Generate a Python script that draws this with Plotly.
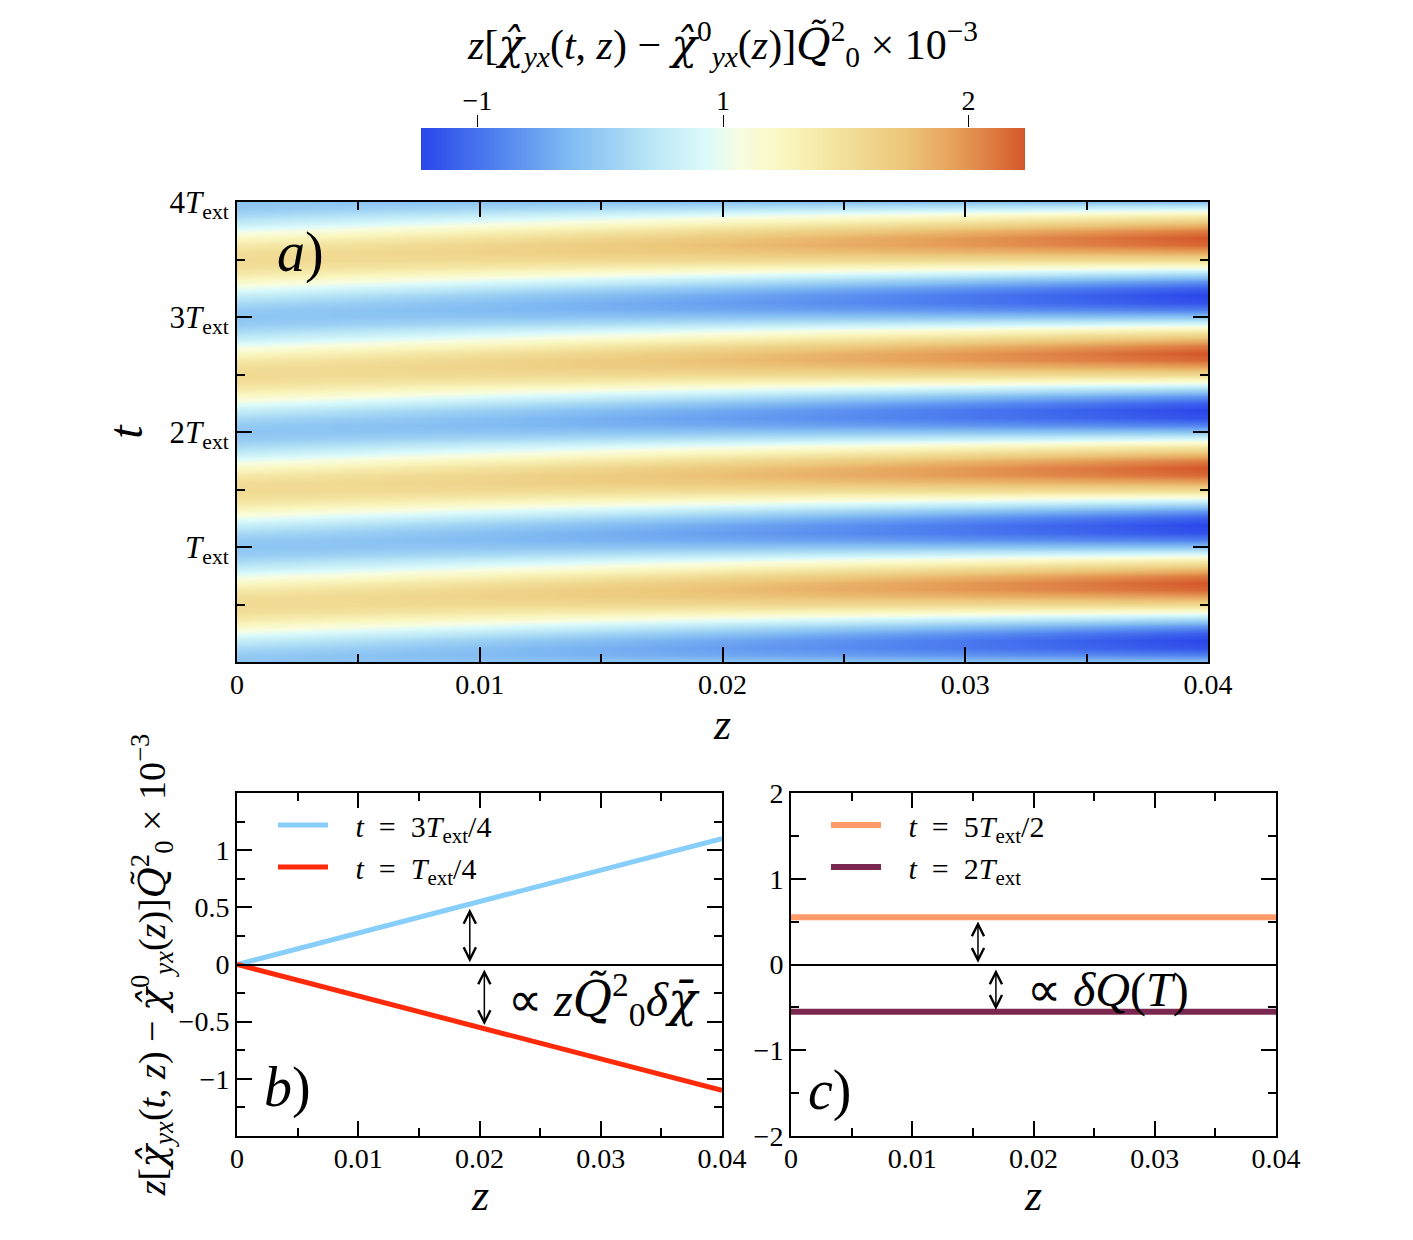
import numpy as np
import plotly.graph_objects as go

# ---------------- data ----------------
# heatmap a): field sampled at z = 0 and z = 0.04 (linear in z), one period in t (T_ext/16 steps)
z_cols = [0.0, 0.04]
chi_z0_period = [-0.55, -0.51, -0.39, -0.21, 0.00, 0.21, 0.39, 0.51,
                 0.55, 0.51, 0.39, 0.21, 0.00, -0.21, -0.39, -0.51]
chi_z004_period = [-0.55, -0.93, -1.17, -1.23, -1.10, -0.81, -0.39, 0.09,
                   0.55, 0.93, 1.17, 1.23, 1.10, 0.81, 0.39, -0.09]
n_periods = 4
t_grid = [i / 16 for i in range(16 * n_periods + 1)]          # in units of T_ext
chi_z0 = chi_z0_period * n_periods + [chi_z0_period[0]]
chi_z004 = chi_z004_period * n_periods + [chi_z004_period[0]]
heat_rows = [[a, b] for a, b in zip(chi_z0, chi_z004)]
zmin, zmax = -1.23, 1.23

# colorbar tick labels (as printed)
cb_tickvals = [-1, 0, 1]
cb_ticktext = ["\u22121", "1", "2"]

# panel b)
b_z = [0.0, 0.04]
b_3T4 = [0.0, 1.10]
b_T4 = [0.0, -1.10]

# panel c)
c_z = [0.0, 0.04]
c_5T2 = [0.55, 0.55]
c_2T = [-0.55, -0.55]

# t tick labels
t_tickvals = [1, 2, 3, 4]
t_ticktext = ["<i>T</i><sub>ext</sub>", "2<i>T</i><sub>ext</sub>",
              "3<i>T</i><sub>ext</sub>", "4<i>T</i><sub>ext</sub>"]

# ---------------- style ----------------
W, H = 1413, 1240
FONT = "Liberation Serif"
DV = '<span style="font-family:DejaVu Serif">'
colorscale = [
    [0.00, "#2a46ea"], [0.12, "#4f80ef"], [0.25, "#82bcf2"], [0.38, "#b9e6f6"],
    [0.47, "#dcfafa"], [0.53, "#f8fde0"], [0.60, "#faf6c0"], [0.70, "#f2e09a"],
    [0.80, "#ecc67a"], [0.88, "#e6a25a"], [0.94, "#de7e42"], [1.00, "#d4562a"],
]

def px_x(p):
    return p / W

def px_y(p):
    return 1 - p / H

chi_hat = DV + "<i>\u03c7\u0302</i></span>"
Q_tilde = DV + "<i>Q\u0303</i></span>"
chi_bar = DV + "<i>\u03c7\u0304</i></span>"
ylabel = ("<i>z</i>[" + chi_hat + "<sub><i>yx</i></sub>(<i>t</i>, <i>z</i>) \u2212 "
          + chi_hat + "<sup>0</sup><sub><i>yx</i></sub>(<i>z</i>)]"
          + Q_tilde + "<sup>2</sup><sub>0</sub> \u00d7 10<sup>\u22123</sup>")

fig = go.Figure()

fig.add_trace(go.Heatmap(
    x=z_cols, y=t_grid, z=heat_rows, colorscale=colorscale, zmin=zmin, zmax=zmax,
    zsmooth="best", showscale=False, xaxis="x", yaxis="y", hoverinfo="skip"))

# colour bar drawn on its own axis so that tick labels sit above the bar
cb_grad = list(np.linspace(zmin, zmax, 300))
fig.add_trace(go.Heatmap(
    x=cb_grad, y=[0, 1], z=[cb_grad, cb_grad], colorscale=colorscale, zmin=zmin, zmax=zmax,
    zsmooth="best", showscale=False, xaxis="x4", yaxis="y4", hoverinfo="skip"))

sp = "\u00a0\u00a0\u00a0"
eq = "\u2002=\u2002"
fig.add_trace(go.Scatter(x=b_z, y=b_3T4, mode="lines", line=dict(color="#87cefa", width=5),
                         name=sp + "<i>t</i>" + eq + "3<i>T</i><sub>ext</sub>/4", xaxis="x2", yaxis="y2", legend="legend"))
fig.add_trace(go.Scatter(x=b_z, y=b_T4, mode="lines", line=dict(color="#ff2a0a", width=5),
                         name=sp + "<i>t</i>" + eq + "<i>T</i><sub>ext</sub>/4", xaxis="x2", yaxis="y2", legend="legend"))
fig.add_trace(go.Scatter(x=c_z, y=c_5T2, mode="lines", line=dict(color="#ff9a6a", width=6),
                         name=sp + "<i>t</i>" + eq + "5<i>T</i><sub>ext</sub>/2", xaxis="x3", yaxis="y3", legend="legend2"))
fig.add_trace(go.Scatter(x=c_z, y=c_2T, mode="lines", line=dict(color="#7a2850", width=6),
                         name=sp + "<i>t</i>" + eq + "2<i>T</i><sub>ext</sub>", xaxis="x3", yaxis="y3", legend="legend2"))

tickfont = dict(family=FONT, size=28, color="black")
common = dict(showgrid=False, showline=True, linecolor="black", linewidth=2, mirror="ticks",
              ticks="inside", ticklen=15, tickwidth=2, tickcolor="black", tickfont=tickfont,
              zeroline=False, automargin=False)

def zaxis(domain, anchor):
    return dict(common, domain=domain, anchor=anchor, range=[0, 0.04], tickmode="linear",
                tick0=0, dtick=0.01, ticklabelstandoff=-4,
                minor=dict(dtick=0.005, tick0=0, ticks="inside", ticklen=8, tickwidth=2, tickcolor="black"))

fig.update_layout(
    width=W, height=H, margin=dict(l=0, r=0, t=0, b=0, autoexpand=False),
    paper_bgcolor="white", plot_bgcolor="white",
    font=dict(family=FONT, size=28, color="black"),
    xaxis=zaxis([px_x(237), px_x(1208)], "y"),
    yaxis=dict(common, domain=[px_y(662), px_y(202)], anchor="x", range=[0, 4],
               tickmode="array", tickvals=t_tickvals, ticktext=t_ticktext,
               tickfont=dict(family=FONT, size=31, color="black"),
               minor=dict(dtick=0.5, tick0=0, ticks="inside", ticklen=8, tickwidth=2, tickcolor="black"),
               title=dict(text="<i>t</i>", font=dict(family=FONT, size=48), standoff=12)),
    xaxis2=zaxis([px_x(237), px_x(722)], "y2"),
    yaxis2=dict(common, domain=[px_y(1136), px_y(793)], anchor="x2", range=[-1.5, 1.5],
                tickmode="array", tickvals=[-1, -0.5, 0, 0.5, 1],
                ticktext=["\u22121", "\u22120.5", "0", "0.5", "1"],
                minor=dict(dtick=0.25, tick0=0, ticks="inside", ticklen=8, tickwidth=2, tickcolor="black"),
                zeroline=True, zerolinecolor="black", zerolinewidth=1.5,
                title=dict(text=ylabel, font=dict(family=FONT, size=38), standoff=1)),
    xaxis3=zaxis([px_x(791), px_x(1276)], "y3"),
    yaxis3=dict(common, domain=[px_y(1136), px_y(793)], anchor="x3", range=[-2, 2],
                tickmode="linear", tick0=0, dtick=1,
                minor=dict(dtick=0.5, tick0=0, ticks="inside", ticklen=8, tickwidth=2, tickcolor="black"),
                zeroline=True, zerolinecolor="black", zerolinewidth=1.5),
    xaxis4=dict(domain=[px_x(421), px_x(1025)], anchor="y4", side="top", range=[zmin, zmax],
                tickmode="array", tickvals=cb_tickvals, ticktext=cb_ticktext,
                ticks="outside", ticklen=12, tickwidth=1, tickcolor="black", ticklabelstandoff=-6,
                showline=False, showgrid=False, zeroline=False, tickfont=tickfont, automargin=False,
                title=dict(text=ylabel, font=dict(family=FONT, size=42), standoff=12)),
    yaxis4=dict(domain=[px_y(170), px_y(128)], anchor="x4", range=[0, 1], visible=False, automargin=False),
    legend=dict(x=px_x(273), y=px_y(799), xanchor="left", yanchor="top", bgcolor="rgba(0,0,0,0)",
                font=dict(family=FONT, size=30), tracegroupgap=0, itemwidth=50),
    legend2=dict(x=px_x(826), y=px_y(799), xanchor="left", yanchor="top", bgcolor="rgba(0,0,0,0)",
                 font=dict(family=FONT, size=30), tracegroupgap=0, itemwidth=50),
    showlegend=True,
)

ann = []
# double arrows
for (xr, yr, xv, y0, y1) in [("x2", "y2", 0.0192, 0.50, 0.02), ("x2", "y2", 0.0204, -0.03, -0.53),
                             ("x3", "y3", 0.01542, 0.52, 0.02), ("x3", "y3", 0.0169, -0.04, -0.53)]:
    ann.append(dict(x=xv, y=y1, ax=xv, ay=y0, xref=xr, yref=yr, axref=xr, ayref=yr, text="",
                    showarrow=True, arrowside="end+start", arrowhead=5, arrowsize=1.6,
                    arrowwidth=1.5, arrowcolor="black", standoff=0, startstandoff=0))
ann.append(dict(x=0.0222, y=-0.31, xref="x2", yref="y2", xanchor="left", yanchor="middle", showarrow=False,
                text="\u221d <i>z</i>" + Q_tilde + "<sup>2</sup><sub>0</sub><i>\u03b4</i>" + chi_bar,
                font=dict(family=FONT, size=48)))
ann.append(dict(x=0.0193, y=-0.30, xref="x3", yref="y3", xanchor="left", yanchor="middle", showarrow=False,
                text="\u221d <i>\u03b4Q</i>(<i>T</i>)", font=dict(family=FONT, size=48)))
# x-axis titles (z)
for (xp, yp) in [(722, 724), (480, 1195), (1033, 1195)]:
    ann.append(dict(x=px_x(xp), y=px_y(yp), xref="paper", yref="paper", xanchor="center", yanchor="middle",
                    showarrow=False, text="<i>z</i>", font=dict(family=FONT, size=44)))
# panel letters
for (lab, xp, yp) in [("a", 275, 252), ("b", 262, 1087), ("c", 806, 1090)]:
    ann.append(dict(x=px_x(xp), y=px_y(yp), xref="paper", yref="paper", xanchor="left", yanchor="middle",
                    showarrow=False, text=f"<i>{lab}</i>)", font=dict(family=FONT, size=56)))
fig.update_layout(annotations=ann)

fig.write_html("out.html")
